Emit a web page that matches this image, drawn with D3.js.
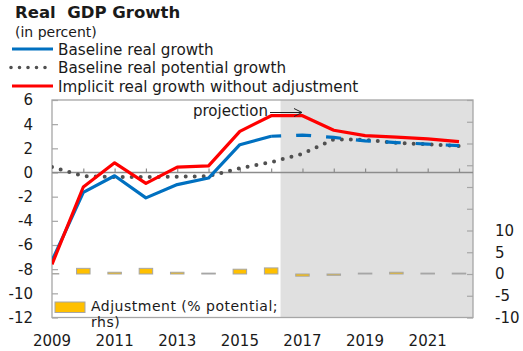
<!DOCTYPE html>
<html>
<head>
<meta charset="utf-8">
<script src="https://cdn.jsdelivr.net/npm/d3@7"></script>
<style>
  html, body { margin: 0; padding: 0; background: #fff; }
  svg { display: block; }
  text { font-family: "DejaVu Sans", Verdana, sans-serif; fill: #1a1a1a; }
</style>
</head>
<body>
<svg id="chart" width="523" height="351"></svg>
<script>
// Real GDP growth, in percent (left axis) and adjustment (right axis)
const years = [2009, 2010, 2011, 2012, 2013, 2014, 2015, 2016, 2017, 2018, 2019, 2020, 2021, 2022];
const baselineGrowth  = [-7.3, -1.65, -0.27, -2.1, -1.0, -0.46, 2.3, 3.0, 3.1, 2.9, 2.62, 2.48, 2.35, 2.22];
const potentialGrowth = [0.45, -0.3, -0.38, -0.38, -0.35, -0.3, 0.35, 0.85, 1.55, 2.75, 2.7, 2.45, 2.33, 2.2];
const implicitGrowth  = [-7.6, -1.2, 0.8, -0.9, 0.45, 0.55, 3.4, 4.7, 4.7, 3.5, 3.05, 2.92, 2.78, 2.56];
const adjustment      = [0.1, 1.3, 0.4, 1.3, 0.4, 0.2, 1.1, 1.4, -0.5, -0.3, 0.2, 0.4, 0.2, 0.2];

const leftTicks = [-12, -10, -8, -6, -4, -2, 0, 2, 4, 6];
const rightTicks = [-10, -5, 0, 5, 10, 15, 20, 25, 30, 35, 40];
const rightLabels = [-10, -5, 0, 5, 10];
const xLabelYears = [2009, 2011, 2013, 2015, 2017, 2019, 2021];
const projectionStart = 2016.3;
const projectionFrom = 2016;

const legendItems = [
  { label: "Baseline real growth", kind: "blue" },
  { label: "Baseline real potential growth", kind: "dots" },
  { label: "Implicit real growth without adjustment", kind: "red" }
];

const svg = d3.select("#chart");
const pLeft = 52, pRight = 473, pTop = 100, pBottom = 317.5;

const x = d3.scaleLinear().domain([2009, 2022.447]).range([pLeft, pRight]);
const yL = d3.scaleLinear().domain([-12, 6]).range([pBottom, pTop]);
const yR = d3.scaleLinear().domain([-10, 40]).range([pBottom, pTop]);

const BLUE = "#0070C0", RED = "#FF0000", DOTS = "#505050", GOLD = "#FFC000", AXIS = "#a6a6a6";

svg.append("defs").append("clipPath").attr("id", "plotClip")
  .append("rect").attr("x", pLeft).attr("y", pTop).attr("width", pRight - pLeft).attr("height", pBottom - pTop);

// projection shading
svg.append("rect")
  .attr("x", x(projectionStart)).attr("y", pTop)
  .attr("width", pRight - x(projectionStart)).attr("height", pBottom - pTop)
  .attr("fill", "#e0e0e0");

// plot frame
svg.append("rect")
  .attr("x", pLeft).attr("y", pTop).attr("width", pRight - pLeft).attr("height", pBottom - pTop)
  .attr("fill", "none").attr("stroke", AXIS).attr("stroke-width", 1.3);

// left axis: ticks inward, labels outside
const gL = svg.append("g").attr("transform", `translate(${pLeft},0)`)
  .call(d3.axisRight(yL).tickValues(leftTicks).tickSize(6).tickFormat(""));
gL.select(".domain").remove();
gL.selectAll(".tick line").attr("stroke", AXIS).attr("stroke-width", 1.2);
svg.append("g").selectAll("text").data(leftTicks).join("text")
  .attr("x", 33).attr("y", d => yL(d)).attr("dy", "0.36em")
  .attr("text-anchor", "end").attr("font-size", 15).text(d => d);

// right axis: ticks inward, labels for the lower part only
const gR = svg.append("g").attr("transform", `translate(${pRight},0)`)
  .call(d3.axisLeft(yR).tickValues(rightTicks).tickSize(6).tickFormat(""));
gR.select(".domain").remove();
gR.selectAll(".tick line").attr("stroke", AXIS).attr("stroke-width", 1.2);
svg.append("g").selectAll("text").data(rightLabels).join("text")
  .attr("x", 495).attr("y", d => yR(d)).attr("dy", "0.36em")
  .attr("text-anchor", "start").attr("font-size", 15).text(d => d);

// category axis on the zero line, ticks pointing up
const gX = svg.append("g").attr("transform", `translate(0,${yL(0)})`)
  .call(d3.axisTop(x).tickValues(years.slice(1)).tickSize(4).tickFormat(""));
gX.select(".domain").attr("stroke", "#8c8c8c").attr("stroke-width", 1.3)
  .attr("d", `M${pLeft},0H${pRight}`);
gX.selectAll(".tick line").attr("stroke", "#8c8c8c").attr("stroke-width", 1.2);
svg.append("g").selectAll("text").data(xLabelYears).join("text")
  .attr("x", d => x(d)).attr("y", 345.5)
  .attr("text-anchor", "middle").attr("font-size", 15).text(d => d);

// adjustment bars (right axis)
const barW = 13.5;
svg.append("g").attr("clip-path", "url(#plotClip)")
  .selectAll("rect").data(years.map((yr, i) => ({ yr, v: adjustment[i] }))).join("rect")
  .attr("x", d => x(d.yr) - barW / 2)
  .attr("y", d => Math.min(yR(d.v), yR(0)))
  .attr("width", barW)
  .attr("height", d => Math.abs(yR(d.v) - yR(0)))
  .attr("fill", GOLD).attr("stroke", AXIS).attr("stroke-width", 1);

const pts = arr => years.map((yr, i) => [x(yr), yL(arr[i])]);
const line = d3.line();
const plot = svg.append("g").attr("clip-path", "url(#plotClip)");

// potential growth, dotted
plot.append("path").attr("d", line(pts(potentialGrowth)))
  .attr("fill", "none").attr("stroke", DOTS).attr("stroke-width", 4)
  .attr("stroke-linecap", "round").attr("stroke-dasharray", "0,9");

// baseline growth: solid history, dashed projection
const split = years.indexOf(projectionFrom);
const bPts = pts(baselineGrowth);
plot.append("path").attr("d", line(bPts.slice(0, split + 1)))
  .attr("fill", "none").attr("stroke", BLUE).attr("stroke-width", 3.2).attr("stroke-linejoin", "round");
plot.append("path").attr("d", line(bPts.slice(split)))
  .attr("fill", "none").attr("stroke", BLUE).attr("stroke-width", 3.2)
  .attr("stroke-dasharray", "15,15").attr("stroke-dashoffset", 5);

// implicit growth without adjustment
plot.append("path").attr("d", line(pts(implicitGrowth)))
  .attr("fill", "none").attr("stroke", RED).attr("stroke-width", 3.2).attr("stroke-linejoin", "round");

// projection label with arrow
svg.append("text").attr("x", 193).attr("y", 116).attr("font-size", 15).text("projection");
svg.append("line").attr("x1", 270).attr("x2", 302).attr("y1", 112.5).attr("y2", 112.5)
  .attr("stroke", "#222").attr("stroke-width", 1);
svg.append("path").attr("d", "M294,108.5L302,112.5L294,116.5")
  .attr("fill", "none").attr("stroke", "#222").attr("stroke-width", 1);

// titles
svg.append("text").attr("x", 15).attr("y", 18).attr("font-size", 16.5).attr("font-weight", "bold")
  .text("Real\u00a0 GDP Growth");
svg.append("text").attr("x", 15).attr("y", 37).attr("font-size", 14).text("(in percent)");

// legend
const lg = svg.append("g");
legendItems.forEach((d, i) => {
  const ly = 49 + i * 18.5;
  if (d.kind === "dots") {
    lg.append("line").attr("x1", 11).attr("x2", 53).attr("y1", ly).attr("y2", ly)
      .attr("stroke", DOTS).attr("stroke-width", 3.6).attr("stroke-linecap", "round")
      .attr("stroke-dasharray", "0,8.5");
  } else {
    lg.append("line").attr("x1", 12).attr("x2", 53).attr("y1", ly).attr("y2", ly)
      .attr("stroke", d.kind === "blue" ? BLUE : RED).attr("stroke-width", 3);
  }
  lg.append("text").attr("x", 58).attr("y", ly + 5.5).attr("font-size", 15.2).text(d.label);
});

// adjustment legend inside the plot
svg.append("rect").attr("x", 55).attr("y", 302).attr("width", 30).attr("height", 10.5)
  .attr("fill", GOLD).attr("stroke", AXIS).attr("stroke-width", 1);
svg.append("text").attr("x", 91).attr("y", 311).attr("font-size", 14)
  .attr("letter-spacing", 0.5).text("Adjustment (% potential;");
svg.append("text").attr("x", 91).attr("y", 327.4).attr("font-size", 14)
  .attr("letter-spacing", 0.5).text("rhs)");
</script>
</body>
</html>
